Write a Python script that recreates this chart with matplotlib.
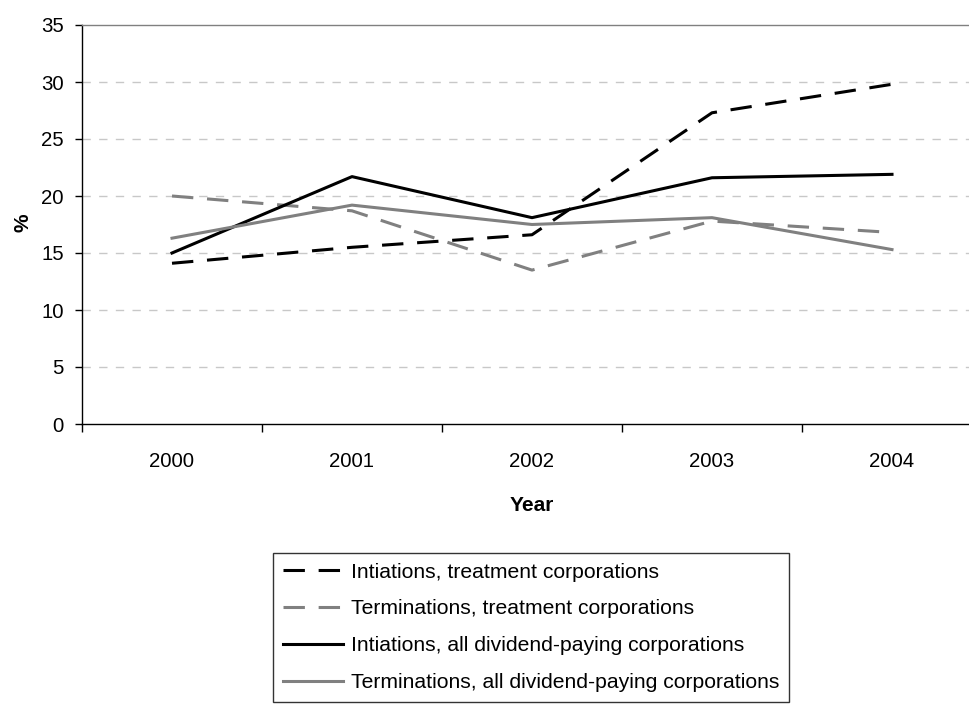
import numpy as np
import matplotlib.pyplot as plt

years = ["2000", "2001", "2002", "2003", "2004"]
init_treat = [14.1, 15.5, 16.6, 27.3, 29.8]
term_treat = [20.0, 18.7, 13.5, 17.8, 16.8]
init_all = [15.0, 21.7, 18.1, 21.6, 21.9]
term_all = [16.3, 19.2, 17.5, 18.1, 15.3]

labels = ["Intiations, treatment corporations",
          "Terminations, treatment corporations",
          "Intiations, all dividend-paying corporations",
          "Terminations, all dividend-paying corporations"]

plt.rcParams['font.family'] = ['Liberation Sans', 'DejaVu Sans']
fs = 14.7
gray = "#808080"

fig = plt.figure(figsize=(9.69, 7.15), dpi=100)
# plot area is cut off on the right, like the original
ax = fig.add_axes([82 / 969, 1 - 424 / 715, 900 / 969, 399 / 715])

x = np.arange(len(years))
l1, = ax.plot(x, init_treat, color="black", lw=2.2, dashes=(7, 4.5))
l2, = ax.plot(x, term_treat, color=gray, lw=2.2, dashes=(7, 4.5))
l3, = ax.plot(x, init_all, color="black", lw=2.2)
l4, = ax.plot(x, term_all, color=gray, lw=2.2)

ax.set_xlim(-0.5, 4.5)
ax.set_ylim(0, 35)
ax.set_yticks(np.arange(0, 36, 5))
ax.set_xticks(x)
ax.set_xticklabels(years)
ax.set_xticks(np.arange(-0.5, 5, 1), minor=True)
ax.tick_params(axis="x", which="major", length=0, pad=20, labelsize=fs)
ax.tick_params(axis="x", which="minor", length=6, direction="out", width=1)
ax.tick_params(axis="y", length=5, direction="out", width=1, pad=8, labelsize=fs)

for v in range(5, 35, 5):
    ax.axhline(v, color="#c8c8c8", lw=1, dashes=(6, 6), zorder=0)

for s in ["left", "bottom"]:
    ax.spines[s].set_color("black")
    ax.spines[s].set_linewidth(1)
ax.spines["top"].set_color(gray)
ax.spines["top"].set_linewidth(1)
ax.spines["right"].set_visible(False)

ax.set_xlabel("Year", fontsize=15, fontweight="bold")
ax.xaxis.set_label_coords(0.5, -72 / 399)
ax.set_ylabel("%", fontsize=15, fontweight="bold")
ax.yaxis.set_label_coords(-50 / 900, 0.504)

leg = fig.legend([l1, l2, l3, l4], labels, loc="upper left",
                 bbox_to_anchor=(273 / 969, 1 - 553 / 715), fontsize=15.2,
                 frameon=True, fancybox=False, shadow=False,
                 handlelength=2.85, handletextpad=0.38, labelspacing=0.85,
                 borderpad=0.45, borderaxespad=0)
leg.get_frame().set_edgecolor("black")
leg.get_frame().set_linewidth(1)

fig.savefig("out.png", dpi=100)
